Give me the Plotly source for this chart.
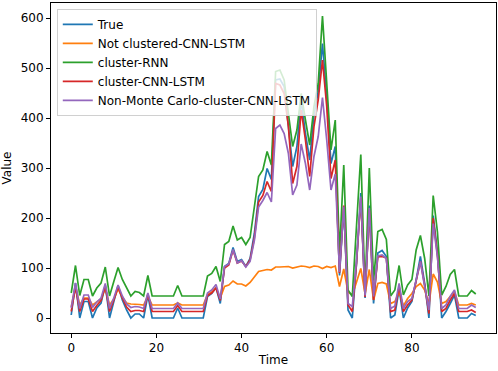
import plotly.graph_objects as go

time = list(range(96))

true_vals = [6, 70, 0, 33, 33, 0, 20, 30, 66, 0, 33, 65, 36, 16, 0, 8, 8, 0, 46, 0,
             0, 0, 0, 0, 0, 20, 0, 0, 0, 0, 0, 0, 43, 49, 61, 29, 103, 109, 141, 113,
             117, 103, 119, 169, 243, 257, 299, 277, 476, 478, 463, 386, 303, 343, 436, 369, 316, 406, 453, 549,
             443, 309, 343, 85, 223, 16, 0, 110, 250, 40, 225, 29, 130, 135, 123, 0, 6, 58, 0, 20,
             33, 76, 123, 69, 0, 205, 132, 0, 13, 29, 46, 0, 0, 0, 9, 5]

not_clustered = [22, 64, 26, 40, 40, 26, 32, 38, 60, 26, 38, 58, 42, 30, 28, 28, 27, 26, 44, 26,
                 26, 26, 26, 26, 26, 30, 26, 26, 26, 26, 26, 26, 47, 52, 60, 40, 63, 66, 74, 68,
                 68, 64, 71, 83, 93, 95, 97, 96, 102, 102, 103, 103, 100, 102, 104, 103, 101, 104, 103, 99,
                 103, 101, 104, 63, 98, 52, 46, 72, 99, 49, 97, 36, 69, 71, 68, 29, 33, 52, 24, 39,
                 49, 63, 69, 56, 28, 88, 72, 29, 33, 43, 53, 26, 26, 26, 29, 26]

cluster_rnn = [50, 105, 45, 77, 77, 44, 60, 70, 102, 44, 73, 101, 77, 59, 44, 53, 51, 44, 85, 44,
               44, 44, 44, 44, 44, 65, 44, 44, 44, 44, 44, 44, 84, 89, 103, 73, 147, 153, 184, 156,
               161, 147, 161, 223, 283, 296, 333, 306, 493, 496, 476, 409, 343, 376, 449, 396, 346, 423, 469, 604,
               476, 336, 396, 128, 306, 56, 43, 185, 327, 55, 300, 75, 173, 177, 157, 44, 56, 105, 46, 66,
               77, 136, 165, 119, 44, 245, 172, 46, 63, 87, 97, 44, 44, 44, 55, 48]

cluster_cnn_lstm = [13, 62, 13, 38, 38, 13, 25, 35, 63, 13, 36, 62, 40, 22, 13, 15, 15, 13, 48, 13,
                    13, 13, 13, 13, 13, 25, 13, 13, 13, 13, 13, 13, 45, 50, 60, 35, 100, 106, 136, 110,
                    114, 103, 116, 160, 232, 245, 273, 253, 469, 466, 449, 383, 269, 303, 416, 356, 283, 383, 436, 516,
                    423, 279, 316, 90, 225, 26, 13, 110, 240, 42, 215, 36, 122, 123, 120, 13, 16, 63, 13, 26,
                    36, 73, 113, 66, 9, 200, 125, 13, 19, 36, 49, 13, 13, 13, 16, 11]

non_monte_carlo = [20, 70, 19, 46, 46, 21, 32, 40, 69, 19, 40, 66, 44, 28, 21, 23, 22, 19, 50, 19,
                   19, 19, 19, 19, 19, 30, 19, 19, 19, 19, 19, 19, 50, 56, 67, 38, 103, 108, 137, 110,
                   115, 102, 113, 155, 222, 235, 251, 232, 379, 386, 369, 329, 246, 266, 348, 309, 256, 323, 363, 441,
                   356, 256, 288, 92, 223, 29, 23, 115, 243, 45, 220, 43, 124, 126, 119, 19, 24, 69, 19, 33,
                   39, 73, 113, 63, 16, 189, 122, 19, 26, 43, 56, 19, 19, 19, 26, 21]

series = [
    ("True", true_vals, "#1f77b4"),
    ("Not clustered-CNN-LSTM", not_clustered, "#ff7f0e"),
    ("cluster-RNN", cluster_rnn, "#2ca02c"),
    ("cluster-CNN-LSTM", cluster_cnn_lstm, "#d62728"),
    ("Non-Monte Carlo-cluster-CNN-LSTM", non_monte_carlo, "#9467bd"),
]

fig = go.Figure()
for name, vals, color in series:
    fig.add_trace(go.Scatter(x=time, y=vals, mode="lines", name=name,
                             line=dict(color=color, width=1.7)))

font_family = "DejaVu Sans"
axis_common = dict(showline=True, linecolor="black", linewidth=1, mirror=True,
                   ticks="outside", ticklen=4, tickwidth=1, tickcolor="black",
                   showgrid=False, zeroline=False, automargin=False,
                   tickfont=dict(family=font_family, size=12, color="black"))

fig.update_layout(
    width=498, height=371,
    margin=dict(l=51, r=2, t=3, b=38),
    paper_bgcolor="white", plot_bgcolor="white",
    font=dict(family=font_family, size=12, color="black"),
    xaxis=dict(range=[-4.75, 99.75], tickvals=[0, 20, 40, 60, 80],
               title=dict(text="Time", font=dict(size=12), standoff=1), **axis_common),
    yaxis=dict(range=[-30, 630], tickvals=[0, 100, 200, 300, 400, 500, 600],
               title=dict(text="Value", font=dict(size=12), standoff=6), **axis_common),
    legend=dict(x=0.013, y=0.982, xanchor="left", yanchor="top",
                bgcolor="rgba(255,255,255,0.8)", bordercolor="#d0d0d0", borderwidth=1,
                font=dict(family=font_family, size=12), tracegroupgap=0,
                itemwidth=30),
    showlegend=True,
)

fig.write_html("out.html", config={"displayModeBar": False},
               post_script="document.body.style.margin='0';")
